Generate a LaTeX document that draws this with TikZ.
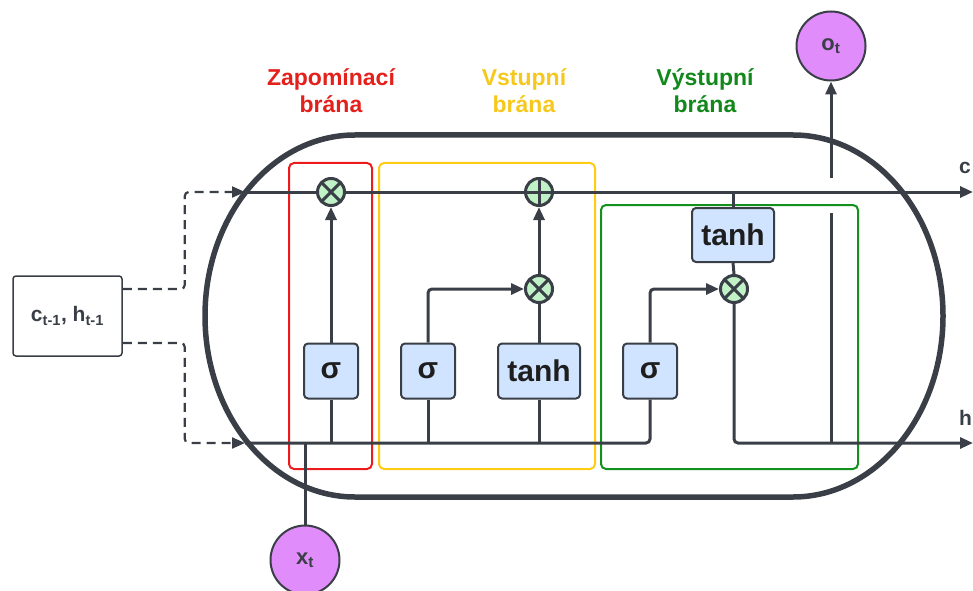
\documentclass[tikz,border=0pt]{standalone}
\usepackage{fontspec}
\setmainfont{Liberation Sans}
\usetikzlibrary{arrows.meta}
\definecolor{ink}{HTML}{3A3F47}
\definecolor{gatered}{HTML}{EC1C1C}
\definecolor{gateyellow}{HTML}{FFCB14}
\definecolor{gategreen}{HTML}{14901C}
\definecolor{redtext}{HTML}{E4201D}
\definecolor{yellowtext}{HTML}{F6C81E}
\definecolor{greentext}{HTML}{12881A}
\definecolor{opfill}{HTML}{C1F2C7}
\definecolor{boxfill}{HTML}{D0E4FF}
\definecolor{iofill}{HTML}{E08CFB}
\definecolor{txt}{HTML}{1E1E1E}
\begin{document}
\begin{tikzpicture}[x=1pt,y=1pt,
  flow/.style={draw=ink, line width=3pt},
  flowarrow/.style={flow, -{Triangle[length=13pt,width=11pt]}},
  dashlink/.style={draw=ink, line width=2.2pt, dash pattern=on 9pt off 6pt, rounded corners=4pt, -{Triangle[length=13pt,width=11pt]}},
  mulop/.style={circle, draw=ink, line width=3pt, fill=opfill, minimum size=27pt, inner sep=0pt,
    path picture={\draw[ink, line width=3pt] (path picture bounding box.north west) -- (path picture bounding box.south east)
      (path picture bounding box.north east) -- (path picture bounding box.south west);}},
  addop/.style={circle, draw=ink, line width=3pt, fill=opfill, minimum size=27pt, inner sep=0pt,
    path picture={\draw[ink, line width=3pt] (path picture bounding box.north) -- (path picture bounding box.south)
      (path picture bounding box.east) -- (path picture bounding box.west);}},
  actbox/.style={draw=ink, line width=2pt, fill=boxfill, rounded corners=4pt, minimum height=55pt, inner sep=0pt,
    font=\bfseries\fontsize{30}{30}\selectfont, text=txt},
  sigbox/.style={actbox, minimum width=54pt},
  tanhbox/.style={actbox, minimum width=82pt},
  iocirc/.style={circle, draw=ink, line width=2pt, fill=iofill, minimum size=69pt, inner sep=0pt,
    font=\bfseries\fontsize{22}{22}\selectfont, text=ink},
  gatelabel/.style={font=\bfseries\fontsize{23}{27}\selectfont, align=center},
  gateframe/.style={line width=2pt, rounded corners=5pt},
  statelabel/.style={font=\bfseries\fontsize{21}{21}\selectfont, text=ink, anchor=base west, inner sep=0pt}
]
\useasboundingbox (0,0) rectangle (973,590);
\clip (0,0) rectangle (973,590);

% gate frames
\draw[gateframe, draw=gatered] (289,121) rectangle (372,427);
\draw[gateframe, draw=gateyellow] (379,121) rectangle (595,427);
\draw[gateframe, draw=gategreen] (601,121) rectangle (858,385);

% cell body
\draw[ink, line width=5.5pt] (355,455) -- (793,455)
  arc[start angle=90, end angle=-90, x radius=150, y radius=181] -- (355,93)
  arc[start angle=270, end angle=90, x radius=150, y radius=181] -- cycle;

% gate labels
\node[gatelabel, text=redtext] (lforget) at (331,499) {Zapomínací\\brána};
\node[gatelabel, text=yellowtext] (linput) at (524,499) {Vstupní\\brána};
\node[gatelabel, text=greentext] (loutput) at (705,499) {Výstupní\\brána};

% input / output
\node[draw=ink, line width=1.5pt, rounded corners=3pt, minimum width=109pt, minimum height=80pt,
  fill=white, font=\bfseries\fontsize{21}{21}\selectfont, text=ink] (prev) at (67.5,274)
  {c\textsubscript{t-1}, h\textsubscript{t-1}};
\node[iocirc] (ot) at (831,544) {o\textsubscript{t}};
\node[iocirc] (xt) at (305,30) {x\textsubscript{t}};
\node[statelabel] (ct) at (959,416) {c};
\node[statelabel] (ht) at (959,165) {h};

% coordinates
\coordinate (cin) at (245,398);
\coordinate (hin) at (245,147);
\coordinate (cout) at (973,398);
\coordinate (hout) at (973,147);
\coordinate (olow) at (831,377);
\coordinate (oup) at (831,412);

% operations
\node[mulop] (fmul) at (331,398) {};
\node[addop] (add) at (539,398) {};
\node[mulop] (imul) at (539,301) {};
\node[mulop] (omul) at (734,301) {};

% activation blocks
\node[sigbox] (fs) at (331,219) {σ};
\node[sigbox] (is) at (428,219) {σ};
\node[tanhbox] (it) at (539,219) {tanh};
\node[sigbox] (os) at (650,219) {σ};
\node[tanhbox, minimum height=54pt] (tc) at (733,355) {tanh};

% dashed inputs
\draw[dashlink] ([yshift=27pt]prev.east) -- ++(62,0) |- (cin);
\draw[dashlink] ([yshift=-27pt]prev.east) -- ++(62,0) |- (hin);

% cell state line
\draw[flow] (cin) -- (fmul);
\draw[flow] (fmul) -- (add);
\draw[flowarrow] (add) -- (cout);
\draw[flow] (tc.north) -- (tc.north |- cin);

% hidden line
\draw[flow, rounded corners=4pt] (hin) -| (os.south);
\draw[flow] (fs.south) -- (fs.south |- hin);
\draw[flow] (is.south) -- (is.south |- hin);
\draw[flow] (it.south) -- (it.south |- hin);
\draw[flow] (xt.north) -- (xt.north |- hin);

% gates
\draw[flowarrow] (fs.north) -- (fmul.south);
\draw[flowarrow, rounded corners=4pt] (is.north) |- (imul.west);
\draw[flow] (it.north) -- (imul.south);
\draw[flowarrow] (imul.north) -- (add.south);
\draw[flowarrow, rounded corners=4pt] (os.north) |- (omul.west);
\draw[flow] (tc.south) -- (omul.north);
\draw[flowarrow, rounded corners=4pt] (omul.south) |- (hout);

% output
\draw[flow] (ot.south |- hout) -- (olow);
\draw[flowarrow] (oup) -- (ot.south);
\end{tikzpicture}
\end{document}
